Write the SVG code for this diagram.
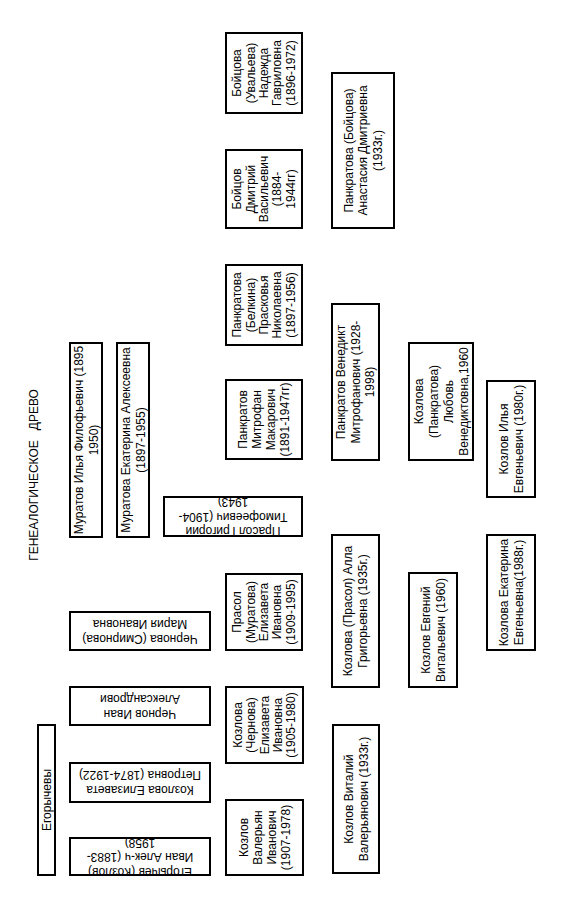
<svg xmlns="http://www.w3.org/2000/svg" width="564" height="902" viewBox="0 0 564 902">
<style>
.box{fill:#fff;stroke:#000;stroke-width:2}
text{font-family:"Liberation Sans",Arial,sans-serif;font-size:12px;fill:#000;text-anchor:middle}
.title{white-space:pre}
</style>
<defs>
<clipPath id="clipPrasol"><rect x="165" y="498" width="136" height="37"/></clipPath>
<clipPath id="clipEgor"><rect x="71" y="839" width="138" height="35"/></clipPath>
</defs>
<rect width="564" height="902" fill="#fff"/>
<text class="title" transform="translate(34,475) rotate(-90)" y="4">ГЕНЕАЛОГИЧЕСКОЕ   ДРЕВО</text>
<g id="connectors"/>
<g id="muratov_ilya"><rect class="box" x="70" y="343" width="32" height="194"/>
<text transform="translate(86,440) rotate(-90)"><tspan x="0" y="-3.5">Муратов Илья Филофьевич (1895</tspan><tspan x="0" y="11.5">1950)</tspan></text></g>
<g id="muratova_ekaterina"><rect class="box" x="117" y="343" width="32" height="194"/>
<text transform="translate(133,440) rotate(-90)"><tspan x="0" y="-3.5">Муратова Екатерина Алексеевна</tspan><tspan x="0" y="11.5">(1897-1955)</tspan></text></g>
<g id="chernova_smirnova"><rect class="box" x="70" y="612" width="140" height="38"/>
<text transform="translate(140,631) rotate(180)"><tspan x="0" y="-3.5">Чернова (Смирнова)</tspan><tspan x="0" y="11.5">Мария Ивановна</tspan></text></g>
<g id="chernov_ivan"><rect class="box" x="70" y="687" width="140" height="38"/>
<text transform="translate(140,706) rotate(180)"><tspan x="0" y="-3.5">Чернов Иван</tspan><tspan x="0" y="11.5">Александрови</tspan></text></g>
<g id="kozlova_elizaveta_p"><rect class="box" x="70" y="763" width="140" height="39"/>
<text transform="translate(140,782.5) rotate(180)"><tspan x="0" y="-3.5">Козлова Елизавета</tspan><tspan x="0" y="11.5">Петровна (1874-1922)</tspan></text></g>
<g id="egorychev"><rect class="box" x="70" y="838" width="140" height="37"/>
<g clip-path="url(#clipEgor)"><text transform="translate(140,856.5) rotate(180)"><tspan x="0" y="-11.5">Егорычев (Козлов)</tspan><tspan x="0" y="3.5">Иван Алек-ч (1883-</tspan><tspan x="0" y="17.5">1958)</tspan></text></g></g>
<g id="egorychevy"><rect class="box" x="38" y="725" width="17" height="150"/>
<text transform="translate(46.5,800) rotate(-90)" y="4">Егорычевы</text></g>
<g id="boytsova"><rect class="box" x="226" y="33" width="76" height="80"/>
<text transform="translate(264,73) rotate(-90)"><tspan x="0" y="-22.6">Бойцова</tspan><tspan x="0" y="-9.3">(Увальева)</tspan><tspan x="0" y="4">Надежда</tspan><tspan x="0" y="17.3">Гавриловна</tspan><tspan x="0" y="30.6">(1896-1972)</tspan></text></g>
<g id="boytsov"><rect class="box" x="226" y="150" width="76" height="78"/>
<text transform="translate(264,189) rotate(-90)"><tspan x="0" y="-22.6">Бойцов</tspan><tspan x="0" y="-9.3">Дмитрий</tspan><tspan x="0" y="4">Васильевич</tspan><tspan x="0" y="17.3">(1884-</tspan><tspan x="0" y="30.6">1944гг)</tspan></text></g>
<g id="pankratova_belkina"><rect class="box" x="226" y="265" width="76" height="80"/>
<text transform="translate(264,305) rotate(-90)"><tspan x="0" y="-22.6">Панкратова</tspan><tspan x="0" y="-9.3">(Белкина)</tspan><tspan x="0" y="4">Прасковья</tspan><tspan x="0" y="17.3">Николаевна</tspan><tspan x="0" y="30.6">(1897-1956)</tspan></text></g>
<g id="pankratov_mitrofan"><rect class="box" x="226" y="380" width="76" height="79"/>
<text transform="translate(264,419.5) rotate(-90)"><tspan x="0" y="-17">Панкратов</tspan><tspan x="0" y="-3">Митрофан</tspan><tspan x="0" y="11">Макарович</tspan><tspan x="0" y="25">(1891-1947гг)</tspan></text></g>
<g id="prasol_grigoriy"><rect class="box" x="164" y="497" width="138" height="39"/>
<g clip-path="url(#clipPrasol)"><text transform="translate(233,516.5) rotate(180)"><tspan x="0" y="-10.5">Прасол Григорий</tspan><tspan x="0" y="4">Тимофеевич (1904-</tspan><tspan x="0" y="19">1943)</tspan></text></g></g>
<g id="prasol_elizaveta"><rect class="box" x="226" y="574" width="76" height="76"/>
<text transform="translate(264,612) rotate(-90)"><tspan x="0" y="-22.6">Прасол</tspan><tspan x="0" y="-9.3">(Муратова)</tspan><tspan x="0" y="4">Елизавета</tspan><tspan x="0" y="17.3">Ивановна</tspan><tspan x="0" y="30.6">(1909-1995)</tspan></text></g>
<g id="kozlova_chernova"><rect class="box" x="226" y="687" width="77" height="76"/>
<text transform="translate(264.5,725) rotate(-90)"><tspan x="0" y="-22.6">Козлова</tspan><tspan x="0" y="-9.3">(Чернова)</tspan><tspan x="0" y="4">Елизавета</tspan><tspan x="0" y="17.3">Ивановна</tspan><tspan x="0" y="30.6">(1905-1980)</tspan></text></g>
<g id="kozlov_valeryan"><rect class="box" x="226" y="800" width="77" height="75"/>
<text transform="translate(264.5,837.5) rotate(-90)"><tspan x="0" y="-17">Козлов</tspan><tspan x="0" y="-3">Валерьян</tspan><tspan x="0" y="11">Иванович</tspan><tspan x="0" y="25">(1907-1978)</tspan></text></g>
<g id="pankratova_boytsova"><rect class="box" x="332" y="73" width="62" height="155"/>
<text transform="translate(363,150.5) rotate(-90)"><tspan x="0" y="-10.5">Панкратова (Бойцова)</tspan><tspan x="0" y="4">Анастасия Дмитриевна</tspan><tspan x="0" y="18.5">(1933г.)</tspan></text></g>
<g id="pankratov_venedikt"><rect class="box" x="332" y="304" width="47" height="156"/>
<text transform="translate(355.5,382) rotate(-90)"><tspan x="0" y="-10.5">Панкратов Венедикт</tspan><tspan x="0" y="4">Митрофанович (1928-</tspan><tspan x="0" y="18.5">1998)</tspan></text></g>
<g id="kozlova_alla"><rect class="box" x="332" y="535" width="47" height="152"/>
<text transform="translate(355.5,611) rotate(-90)"><tspan x="0" y="-3.5">Козлова (Прасол) Алла</tspan><tspan x="0" y="11.5">Григорьевна (1935г.)</tspan></text></g>
<g id="kozlov_vitaliy"><rect class="box" x="333" y="725" width="46" height="148"/>
<text transform="translate(356,799) rotate(-90)"><tspan x="0" y="-3.5">Козлов Виталий</tspan><tspan x="0" y="11.5">Валерьянович (1933г.)</tspan></text></g>
<g id="kozlova_lyubov"><rect class="box" x="409" y="343" width="64" height="117"/>
<text transform="translate(441,401.5) rotate(-90)"><tspan x="0" y="-18.5">Козлова</tspan><tspan x="0" y="-3.5">(Панкратова)</tspan><tspan x="0" y="11.5">Любовь</tspan><tspan x="0" y="26.5">Венедиктовна,1960</tspan></text></g>
<g id="kozlov_evgeniy"><rect class="box" x="409" y="573" width="48" height="114"/>
<text transform="translate(433,630) rotate(-90)"><tspan x="0" y="-3.5">Козлов Евгений</tspan><tspan x="0" y="11.5">Витальевич (1960)</tspan></text></g>
<g id="kozlov_ilya"><rect class="box" x="487" y="381" width="48" height="116"/>
<text transform="translate(511,439) rotate(-90)"><tspan x="0" y="-3.5">Козлов Илья</tspan><tspan x="0" y="11.5">Евгеньевич (1980г.)</tspan></text></g>
<g id="kozlova_ekaterina"><rect class="box" x="487" y="535" width="48" height="115"/>
<text transform="translate(511,592.5) rotate(-90)"><tspan x="0" y="-3.5">Козлова Екатерина</tspan><tspan x="0" y="11.5">Евгеньевна(1988г.)</tspan></text></g>
</svg>
